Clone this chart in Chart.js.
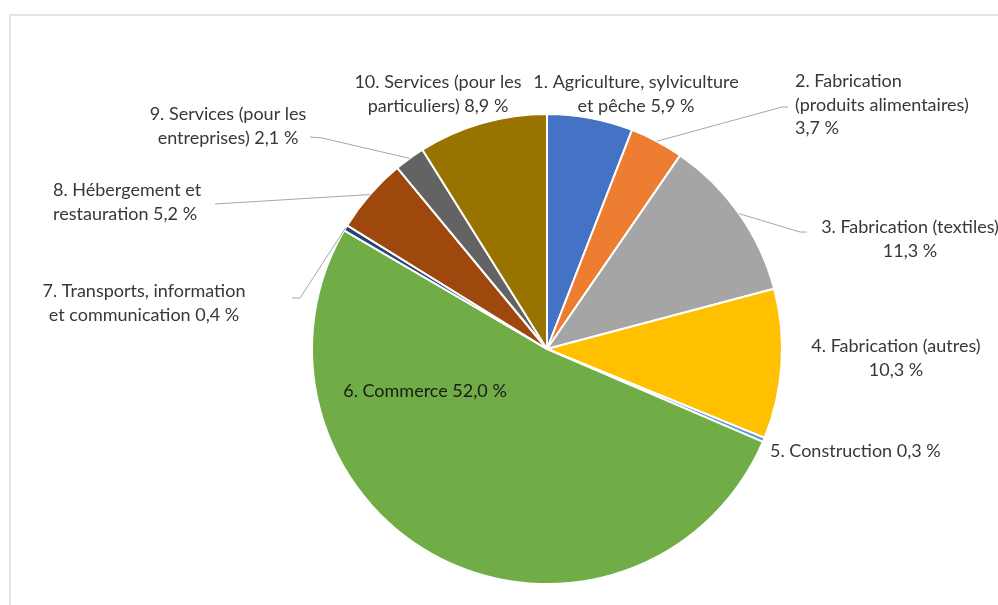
<!DOCTYPE html>
<html>
<head>
<meta charset="utf-8">
<script src="https://cdn.jsdelivr.net/npm/chart.js@4.4.1/dist/chart.umd.min.js"></script>
<style>
  html, body { margin: 0; padding: 0; background: #fff; }
  #wrap { position: relative; width: 998px; height: 605px; overflow: hidden; }
  #frame { position: absolute; left: 9px; top: 14px; width: 1010px; height: 620px;
           border: 2px solid #e4e4e4; box-sizing: border-box; }
  canvas { position: absolute; left: 0; top: 0; }
</style>
</head>
<body>
<div id="wrap">
  <div id="frame"></div>
  <canvas id="c" width="998" height="605"></canvas>
</div>
<script>
// Sectors (a "\n" marks a line break in the data label; a trailing one puts the value on its own line)
const categories = [
  '1. Agriculture, sylviculture\net pêche',
  '2. Fabrication\n(produits alimentaires)\n',
  '3. Fabrication (textiles)\n',
  '4. Fabrication (autres)\n',
  '5. Construction',
  '6. Commerce',
  '7. Transports, information\net communication',
  '8. Hébergement et\nrestauration',
  '9. Services (pour les\nentreprises)',
  '10. Services (pour les\nparticuliers)'
];

// Share of each sector, in %
const shares = [5.9, 3.7, 11.3, 10.3, 0.3, 52.0, 0.4, 5.2, 2.1, 8.9];

const sliceColors = ['#4472C4', '#ED7D31', '#A5A5A5', '#FFC000', '#5B9BD5',
                     '#70AD47', '#264478', '#9E480E', '#636363', '#997300'];

const fmtPct = v => v.toFixed(1).replace('.', ',') + '\u00a0%';
const labelLines = categories.map((name, i) =>
  (name + ' ' + fmtPct(shares[i])).split('\n').map(s => s.trim()));

// Where each data label sits (first baseline) and the path of its leader line
const labelPlacement = [
  { x: 636, y: 88,  align: 'center' },
  { x: 795, y: 87,  align: 'left',   leader: [[782, 107], [788, 107]] },
  { x: 910, y: 233, align: 'center', leader: [[800, 232], [807, 232]] },
  { x: 896, y: 352, align: 'center' },
  { x: 770, y: 457, align: 'left' },
  { x: 425, y: 397, align: 'center', inside: true },
  { x: 144, y: 297, align: 'center', leader: [[300, 298], [292, 298]] },
  { x: 53,  y: 196, align: 'left',   leader: [[215, 204]] },
  { x: 228, y: 120, align: 'center', leader: [[322, 138], [310, 137]] },
  { x: 438, y: 88,  align: 'center' }
];

const dataLabels = {
  id: 'dataLabels',
  afterDatasetsDraw(chart) {
    const ctx = chart.ctx;
    const arcs = chart.getDatasetMeta(0).data;
    ctx.save();
    // leader lines
    ctx.strokeStyle = '#a6a6a6';
    ctx.lineWidth = 1;
    arcs.forEach((arc, i) => {
      const p = labelPlacement[i];
      if (!p.leader) return;
      const { x, y, startAngle, endAngle, outerRadius } =
        arc.getProps(['x', 'y', 'startAngle', 'endAngle', 'outerRadius'], true);
      const mid = (startAngle + endAngle) / 2;
      ctx.beginPath();
      ctx.moveTo(x + Math.cos(mid) * outerRadius, y + Math.sin(mid) * outerRadius);
      p.leader.forEach(([lx, ly]) => ctx.lineTo(lx, ly));
      ctx.stroke();
    });
    // label text
    ctx.font = '18px Lato, "Open Sans", sans-serif';
    ctx.textBaseline = 'alphabetic';
    labelLines.forEach((lines, i) => {
      const p = labelPlacement[i];
      ctx.fillStyle = p.inside ? '#1a1a1a' : '#383838';
      ctx.textAlign = p.align;
      lines.forEach((t, k) => ctx.fillText(t, p.x, p.y + k * 23.5));
    });
    ctx.restore();
  }
};

new Chart(document.getElementById('c'), {
  type: 'pie',
  data: {
    labels: categories,
    datasets: [{
      data: shares,
      backgroundColor: sliceColors,
      borderColor: '#ffffff',
      borderWidth: 2
    }]
  },
  options: {
    responsive: false,
    animation: false,
    devicePixelRatio: 1,
    layout: { padding: { left: 311, right: 215, top: 113, bottom: 20 } },
    plugins: { legend: { display: false }, tooltip: { enabled: false } }
  },
  plugins: [dataLabels]
});
</script>
</body>
</html>
